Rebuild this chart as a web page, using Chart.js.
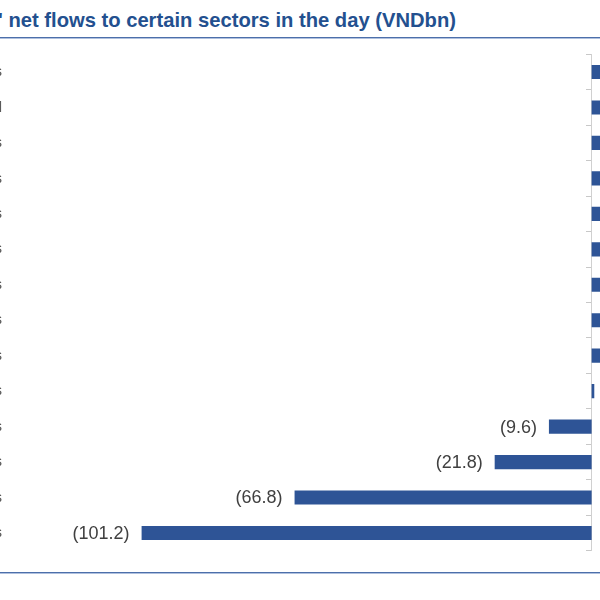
<!DOCTYPE html>
<html>
<head>
<meta charset="utf-8">
<script src="https://cdn.jsdelivr.net/npm/chart.js@4/dist/chart.umd.min.js"></script>
<style>
  html, body { margin: 0; padding: 0; width: 600px; height: 600px; overflow: hidden; background: #ffffff; }
  #wrap { position: relative; width: 600px; height: 600px; overflow: hidden; }
  #title { position: absolute; left: -2px; top: 9px; font-family: "Liberation Sans", Arial, sans-serif; font-weight: bold; font-size: 20.2px; color: #23508F; white-space: nowrap; }
  .rule { position: absolute; left: 0; width: 600px; height: 1px; }
  #c { position: absolute; top: 0; left: -241.6px; }
</style>
</head>
<body>
<div id="wrap">
  <div id="title">' net flows to certain sectors in the day (VNDbn)</div>
  <div class="rule" style="top:37px;background:#4D6FAA;"></div>
  <div class="rule" style="top:38px;background:#AFC0DE;"></div>
  <div class="rule" style="top:572px;background:#4D6FAA;"></div>
  <div class="rule" style="top:573px;background:#AFC0DE;"></div>
  <canvas id="c" width="1300" height="600"></canvas>
</div>
<script>
// Categories (top to bottom)
const sectors = [
  "Banks", "Retail", "Basic Resources", "Financial Services", "Food & Beverages",
  "Utilities", "Chemicals", "Real Estate Services", "Oil & Gas Services", "Technologies",
  "Industrial Goods & Services", "Construction & Materials", "Insurance Services", "Real Estates"
];
// Net flows, VNDbn (positive bars are cut off at the right edge of the reference)
const netFlows = [92.4, 61.5, 48.2, 39.7, 31.6, 24.3, 17.8, 11.2, 6.5, 0.6, -9.6, -21.8, -66.8, -101.2];
// Value axis range
const axisMin = -120;
const axisMax = 100;

const barColor = "#2E5496";
const labelColor = "#404040";

const valueLabels = {
  id: "valueLabels",
  afterDatasetsDraw(chart) {
    const ctx = chart.ctx;
    const meta = chart.getDatasetMeta(0);
    ctx.save();
    ctx.font = "18px 'Liberation Sans', Arial, sans-serif";
    ctx.fillStyle = labelColor;
    ctx.textBaseline = "middle";
    meta.data.forEach((el, i) => {
      const v = netFlows[i];
      const txt = v < 0 ? "(" + Math.abs(v).toFixed(1) + ")" : v.toFixed(1);
      if (v < 0) {
        ctx.textAlign = "right";
        ctx.fillText(txt, el.x - 12, el.y + 1);
      } else {
        ctx.textAlign = "left";
        ctx.fillText(txt, el.x + 12, el.y + 1);
      }
    });
    ctx.restore();
  }
};

new Chart(document.getElementById("c"), {
  type: "bar",
  data: {
    labels: sectors,
    datasets: [{
      data: netFlows,
      backgroundColor: barColor,
      borderWidth: 0,
      categoryPercentage: 1.0,
      barPercentage: 0.4
    }]
  },
  options: {
    indexAxis: "y",
    responsive: false,
    animation: false,
    devicePixelRatio: 1,
    layout: { padding: { top: 54.3, bottom: 49.3, left: 0, right: 21.7 } },
    plugins: { legend: { display: false }, tooltip: { enabled: false }, title: { display: false } },
    scales: {
      x: {
        type: "linear",
        min: axisMin,
        max: axisMax,
        display: false,
        grid: { display: false }
      },
      y: {
        type: "category",
        position: "left",
        grid: { display: false, drawTicks: false },
        border: { display: false },
        ticks: {
          padding: 56,
          color: "#595959",
          font: { family: "'Liberation Sans', Arial, sans-serif", size: 15 }
        },
        afterFit(scale) { scale.width = 300; scale.paddingTop = 0; scale.paddingBottom = 0; }
      },
      y2: {
        type: "category",
        position: { x: 0 },
        offset: true,
        ticks: { display: false },
        grid: { offset: true, drawOnChartArea: false, drawTicks: true, tickLength: 5, color: "#C8C8C8" },
        border: { display: true, color: "#D0D0D0" },
        afterFit(scale) { scale.paddingTop = 0; scale.paddingBottom = 0; }
      }
    }
  },
  plugins: [valueLabels]
});
</script>
</body>
</html>
